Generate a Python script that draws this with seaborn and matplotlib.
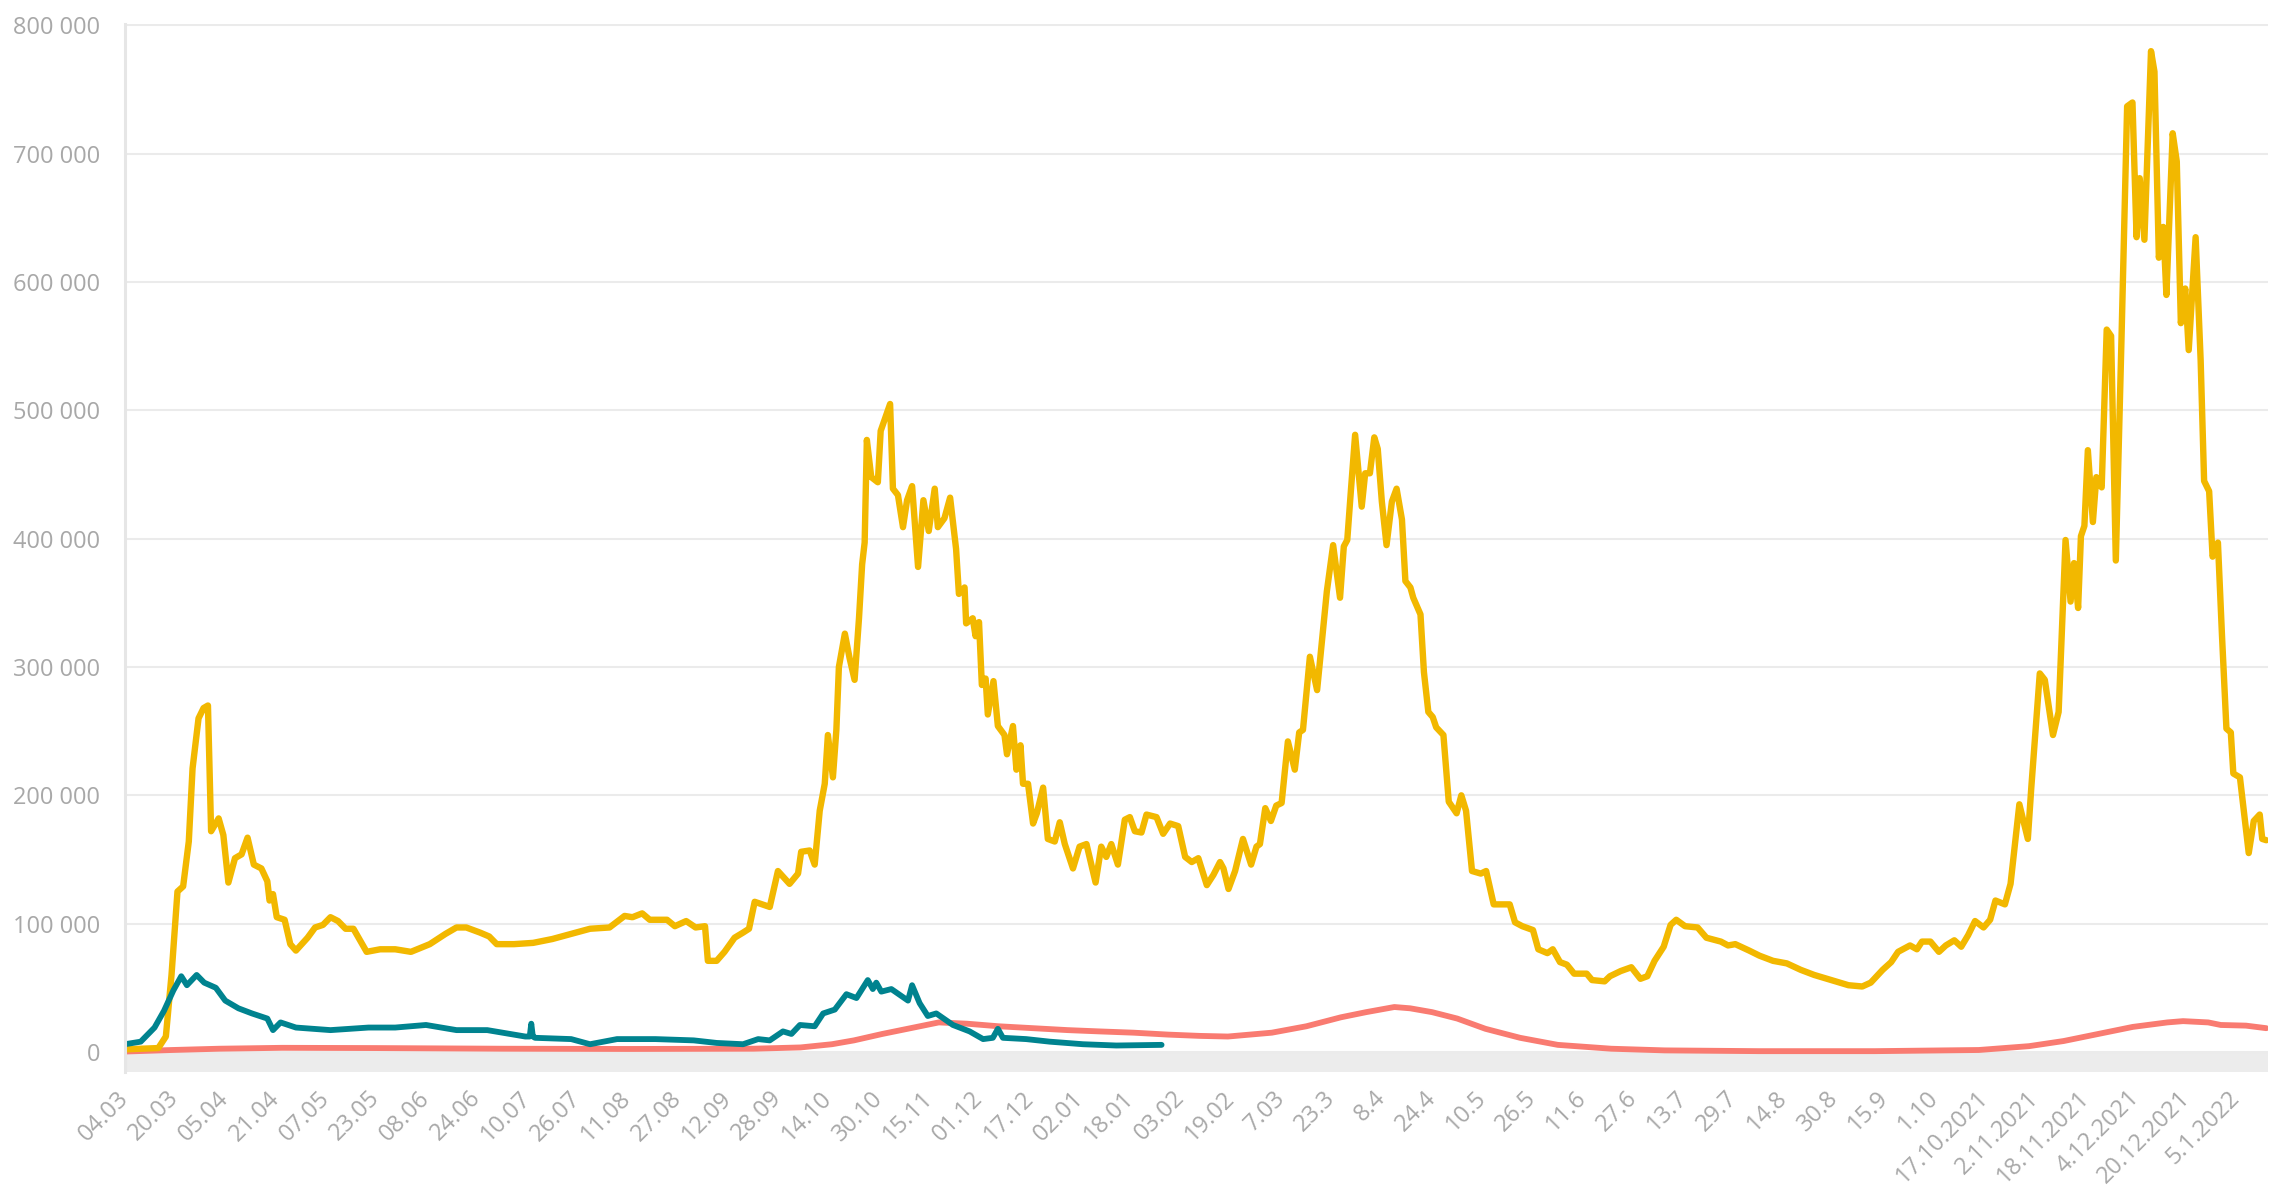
import pandas as pd
import matplotlib.pyplot as plt
import matplotlib.dates as mdates
import matplotlib.ticker as mticker
import matplotlib.transforms as mtransforms
import seaborn as sns

start = pd.Timestamp("2020-03-04")

# yellow series: days since 04.03.2020, values in thousands
yellow_day = [0, 10.6, 13, 14.8, 16.7, 18.5, 20.3, 21.5, 23.4, 25, 26.4, 27.4, 29.8, 31.3, 32.9, 35, 37.1, 39, 41,
              43.4, 45.3, 46, 47.1, 48.3, 50.8, 52.6, 54.4, 58.1, 60.5, 63, 65.4, 67.8, 70.2, 72.7, 76.9, 81.2, 86,
              91, 97, 102, 105.5, 108.6, 113, 115.9, 118.3, 123.8, 129.9, 136, 142, 148, 154.2, 159, 161.5, 164.6,
              167, 172.5, 175, 178.6, 181.6, 184.6, 185.5, 188.3, 190.8, 194, 196.7, 198.6, 200.4, 205.2, 207.8,
              211.5, 214.2, 215.2, 217.9, 219.5, 221.1, 222.7, 223.7, 225.3, 226.4, 227.2, 229.1, 230.6, 232.2,
              233.6, 234.6, 235.4, 236.1, 237.5, 239.6, 240.5, 243.5, 244.4, 246, 247.6, 248.9, 250.5, 252.4,
              254.1, 255.8, 257.7, 258.7, 260.8, 262.6, 264.5, 265.4, 267.2, 267.7, 269.8, 270.7, 271.8, 272.7,
              273.9, 274.6, 276.4, 277.8, 279.9, 280.7, 282.6, 283.7, 285, 285.8, 287.4, 289, 290.2, 292.2, 293.7,
              295.9, 297.5, 299.1, 301.7, 303.8, 306, 308.9, 310.7, 312.3, 313.9, 316, 318.2, 319.8, 321.4, 323.5,
              325.1, 328.3, 330.4, 332.6, 335.2, 337.4, 339.5, 341.6, 344.3, 346.4, 348.5, 349.6, 351.2, 353.3,
              355.8, 358.4, 360.1, 361.2, 362.9, 364.7, 366.4, 368.1, 370.1, 372.3, 373.7, 374.9, 377.1, 379.4,
              381.1, 382.5, 384.5, 386.7, 387.9, 389, 390.2, 391.5, 393.6, 394.7, 396.2, 397.6, 398.7, 400, 401.5,
              403.2, 404.7, 406.4, 407.5, 409.1, 410, 412.3, 413.4, 414.8, 416.2, 417.3, 419.6, 421.3, 423.8,
              425.3, 426.8, 428.7, 431.5, 433.2, 435.6, 437.8, 440.7, 442.4, 444.7, 448.1, 449.8, 452.7, 454.4,
              456.7, 458.9, 461.2, 465.2, 466.9, 470.9, 472.6, 476, 479.4, 482.3, 484.5, 486.8, 489.7, 491.9,
              493.7, 496.5, 500.5, 503.3, 507.9, 510.2, 512.5, 516.9, 520.2, 524.5, 528.9, 533.3, 537.6, 543,
              548.5, 552.9, 555.6, 559.4, 562.1, 564.3, 568.1, 570.3, 571.9, 574.6, 577.3, 579.5, 582.2, 584.4,
              586.6, 588.8, 591.5, 593.6, 595.3, 598.3, 600.1, 602.9, 605.6, 606.7, 609.4, 611, 613.6, 615.4,
              617.6, 619.2, 620.3, 621.6, 622.5, 623.6, 624.7, 626.3, 627.4, 629.1, 630.7, 632.1, 633.6, 635.4,
              637.2, 638.9, 640.2, 641.2, 642.7, 644.8, 645.9, 647.3, 648.7, 649.7, 651.7, 653, 654.3, 655.7,
              656.8, 659, 660.6, 661.7, 663.3, 664.4, 666.1, 667.4, 668.8, 670.2, 671, 673.1, 675.9, 677.5, 679.4,
              680.2, 681.5]
yellow_val = [2, 3, 12, 60, 125, 129, 164, 221, 260, 268, 270, 172, 182, 169, 132, 151, 154, 167, 146,
              143, 133, 118, 123, 105, 103, 84, 79, 89, 97, 99, 105, 102, 96, 96, 78, 80, 80,
              78, 84, 92, 97, 97, 93, 90, 84, 84, 85, 88, 92, 96, 97, 106, 105, 108,
              103, 103, 98, 102, 97, 98, 71, 71, 78, 89, 93, 96, 117, 113, 141,
              131, 139, 156, 157, 146, 188, 209, 247, 214, 251, 300, 326, 307, 290,
              338, 380, 397, 477, 448, 444, 484, 505, 439, 434, 409, 430, 441, 378,
              430, 406, 439, 409, 416, 432, 392, 357, 362, 334, 338, 324, 335, 286,
              291, 263, 289, 254, 247, 232, 254, 220, 239, 209, 209, 178, 186, 206, 166,
              164, 179, 162, 143, 160, 162, 132, 160, 152, 162, 146, 181, 183, 172, 171,
              185, 183, 170, 178, 176, 152, 148, 151, 130, 138, 148, 143, 127, 141,
              166, 146, 160, 162, 190, 180, 192, 194, 242, 220, 249, 251, 308, 282,
              324, 359, 395, 354, 394, 399, 439, 481, 425, 451, 451, 479, 470, 429, 395,
              429, 439, 415, 367, 362, 354, 341, 296, 265, 261, 253, 247, 195, 186,
              200, 188, 141, 139, 141, 115, 115, 115, 101, 98, 95, 80, 77, 80,
              70, 68, 61, 61, 56, 55, 59, 63, 66, 57, 59, 71, 82, 99,
              103, 98, 97, 89, 86, 83, 84, 79, 75, 71, 69, 64, 60, 56,
              52, 51, 54, 64, 70, 78, 83, 80, 86, 86, 78, 83, 87, 82,
              91, 102, 97, 103, 118, 115, 131, 193, 166, 206, 295, 290, 247, 265,
              399, 351, 381, 346, 402, 410, 469, 413, 448, 440, 563, 558, 383, 555,
              737, 740, 635, 681, 633, 780, 764, 619, 643, 590, 716, 694, 568, 595,
              547, 635, 539, 445, 437, 386, 397, 324, 252, 249, 217, 214, 155, 180, 185,
              166, 165]

# teal series
teal_day = [0, 5, 9.4, 12.4, 15.4, 17.9, 19.7, 22.8, 25.2, 28.9, 31.9, 36.1, 40.4, 45.3, 47.1, 49.5, 54.4, 65.4,
            77.5, 86, 95.8, 105.5, 115.3, 127.4, 128.8, 129.3, 129.8, 130.5, 142, 148, 156.6, 168.8, 181, 188.3,
            196.7, 201.5, 205.2, 209.4, 212.1, 214.8, 219.5, 222.2, 225.9, 229.6, 232.8, 236.4, 238, 239.1, 240.7,
            243.9, 249.2, 250.5, 252.9, 255.5, 258.2, 263.5, 268.8, 273.1, 276.2, 277.8, 279.4, 286.8, 294.3,
            304.9, 315.5, 329.9]
teal_val = [6, 8, 19, 32, 48, 59, 52, 60, 54, 50, 40, 34, 30, 26, 17, 23, 19, 17,
            19, 19, 21, 17, 17, 12, 12, 22, 12, 11, 10, 6, 10, 10, 9, 7,
            6, 10, 9, 16, 14, 21, 20, 30, 33, 45, 42, 56, 49, 54, 47,
            49, 40, 52, 38, 28, 30, 21, 16, 10, 11, 18, 11, 10, 8,
            6, 5, 5.5]

# red series
red_day = [0, 15, 30, 50, 80, 120, 160, 200, 215, 225, 232, 241, 251, 259, 268, 278, 289, 300, 310, 321, 332,
           342, 351, 365, 376, 387, 395, 404, 409, 416, 424, 433, 444, 456, 473, 490, 520, 557, 590, 606, 617,
           628, 639, 650, 655, 663, 667, 675, 681.5]
red_val = [0.3, 1.5, 2.5, 3.2, 3, 2.5, 2.3, 2.5, 3.5, 6, 9, 14, 19, 23, 22, 20, 18.5, 17, 16, 15, 13.5,
           12.5, 12, 15, 20, 27, 31, 35, 34, 31, 26, 18, 11, 5.5, 2.5, 1.2, 0.6, 0.6, 1.5, 4.5, 8.5,
           14, 19.5, 23, 24, 23, 21, 20.5, 18.5]

tick_labels = ["04.03", "20.03", "05.04", "21.04", "07.05", "23.05", "08.06", "24.06", "10.07", "26.07",
               "11.08", "27.08", "12.09", "28.09", "14.10", "30.10", "15.11", "01.12", "17.12", "02.01",
               "18.01", "03.02", "19.02", "7.03", "23.3", "8.4", "24.4", "10.5", "26.5", "11.6", "27.6",
               "13.7", "29.7", "14.8", "30.8", "15.9", "1.10", "17.10.2021", "2.11.2021", "18.11.2021",
               "4.12.2021", "20.12.2021", "5.1.2022"]


def to_df(days, vals):
    return pd.DataFrame({"date": start + pd.to_timedelta(days, unit="D"),
                         "value": [v * 1000 for v in vals]})


sns.set_style("white")
plt.rcParams["font.family"] = ["Open Sans", "DejaVu Sans"]

fig = plt.figure(figsize=(22.77, 11.87), dpi=100)
ax = fig.add_axes([0.0549, 0.0965, 0.9411, 0.8831])

ax.axhspan(-16000, 0, color="#ececec", lw=0, zorder=0)

line_style = dict(estimator=None, solid_joinstyle="round", solid_capstyle="round", ax=ax)
sns.lineplot(data=to_df(red_day, red_val), x="date", y="value", color="#f97b71",
             linewidth=4.2, **line_style)
sns.lineplot(data=to_df(yellow_day, yellow_val), x="date", y="value", color="#f2b800",
             linewidth=4.6, **line_style)
sns.lineplot(data=to_df(teal_day, teal_val), x="date", y="value", color="#00838f",
             linewidth=4.2, **line_style)

ax.set_xlim(mdates.date2num(start), mdates.date2num(start + pd.Timedelta(days=682)))
ax.set_ylim(-16000, 801000)

ticks = [mdates.date2num(start + pd.Timedelta(days=16 * i)) for i in range(len(tick_labels))]
ax.set_xticks(ticks)
ax.set_xticklabels(tick_labels, rotation=45, ha="right", va="center", rotation_mode="anchor",
                   fontsize=17, color="#a8a8a8")
offset = mtransforms.ScaledTranslation(18 / 100, 0, fig.dpi_scale_trans)
for lab in ax.get_xticklabels():
    lab.set_transform(lab.get_transform() + offset)
ax.tick_params(axis="x", length=0, pad=16)

ax.set_yticks(range(0, 800001, 100000))
ax.yaxis.set_major_formatter(mticker.FuncFormatter(lambda v, p: f"{int(v):,}".replace(",", " ")))
ax.tick_params(axis="y", length=12, width=1.5, color="#e8e8e8", labelsize=17,
               labelcolor="#a8a8a8", pad=6)

ax.grid(axis="y", color="#ebebeb", lw=1.5)
ax.grid(axis="x", visible=False)
for side in ["top", "right", "bottom"]:
    ax.spines[side].set_visible(False)
ax.spines["left"].set_color("#e6e6e6")
ax.spines["left"].set_linewidth(2.2)
ax.set_xlabel("")
ax.set_ylabel("")

fig.savefig("out.png", dpi=100)
